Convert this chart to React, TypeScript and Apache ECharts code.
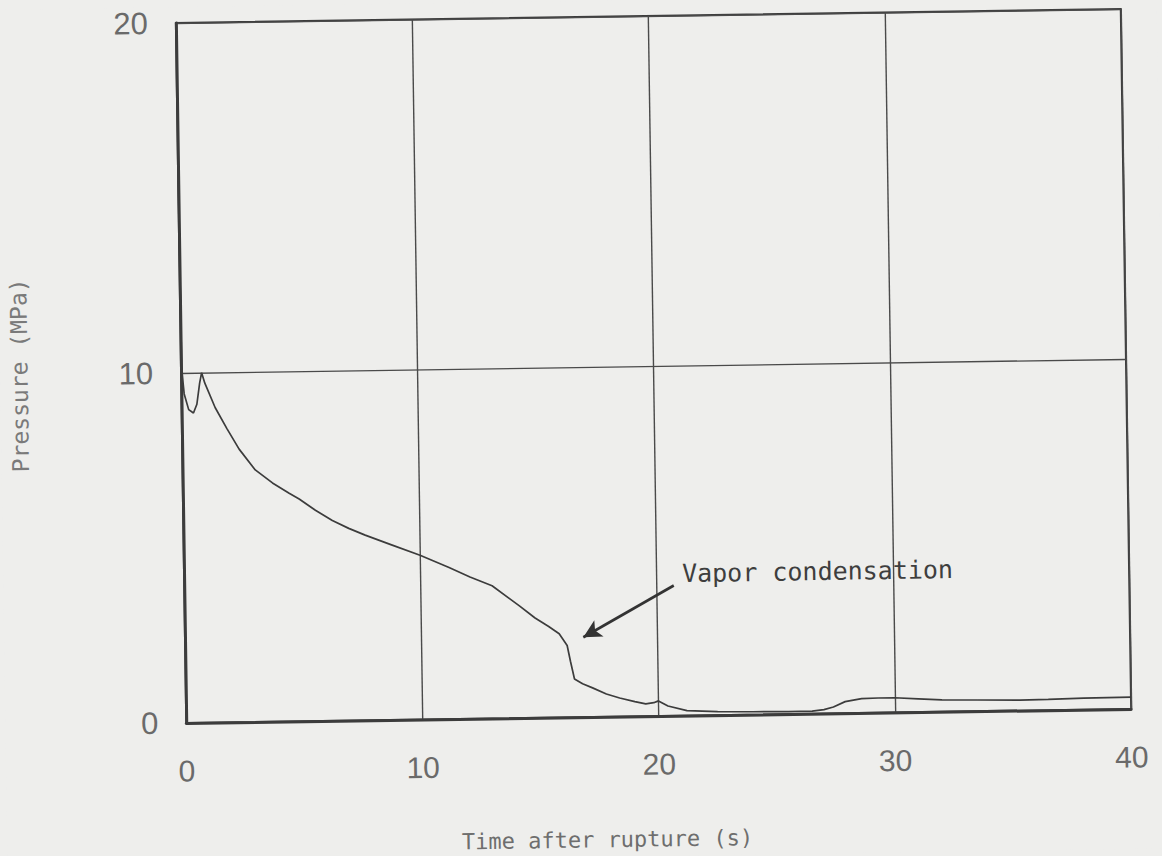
import React, { useEffect, useRef } from "react";
import * as echarts from "echarts";

// Pressure history after the rupture
const timeS = [
  0, 0.03, 0.12, 0.3, 0.5, 0.65, 0.78, 0.87, 1.0, 1.42, 1.9, 2.41, 3.08, 3.8, 4.5,
  4.92, 5.6, 6.31, 7.0, 7.69, 8.8, 10.0, 11.22, 12.1, 13.03, 14.16, 14.83, 15.4, 15.84, 16.17,
  16.3, 16.46, 16.8, 17.22, 17.8, 18.36, 19.0, 19.46, 19.8, 20.0, 20.4, 21.2, 22.5, 24, 25.5,
  26.5, 27.0, 27.4, 27.9, 28.6, 29.3, 30.0, 31.0, 32.0, 33.5, 35.3, 36.5, 38.0, 40.0,
];
const pressureMPa = [
  15.5, 10.1, 9.4, 8.95, 8.85, 9.1, 9.7, 10.0, 9.7, 9.0, 8.4, 7.8, 7.2, 6.82, 6.52,
  6.35, 6.02, 5.72, 5.49, 5.29, 5.0, 4.69, 4.33, 4.05, 3.79, 3.21, 2.85, 2.6, 2.39, 2.05,
  1.6, 1.09, 0.95, 0.83, 0.65, 0.53, 0.42, 0.35, 0.38, 0.43, 0.28, 0.14, 0.1, 0.08, 0.07,
  0.07, 0.11, 0.18, 0.33, 0.41, 0.42, 0.42, 0.38, 0.34, 0.32, 0.3, 0.31, 0.33, 0.34,
];

const xTicks = [0, 10, 20, 30, 40];
const yTicks = [0, 10, 20];

const xTitle = "Time after rupture (s)";
const yTitle = "Pressure (MPa)";
const noteText = "Vapor condensation";
// arrow from the note towards the curve, in data units
const arrowFrom = [20.72, 3.72];
const arrowTo = [16.86, 2.28];

const INK = "#3c3c3c";
const LABEL = "#6a6a6a";
const PAPER = "#eeeeec";

export default function App() {
  const ref = useRef<HTMLDivElement>(null);

  useEffect(() => {
    if (!ref.current) return;
    const chart = echarts.init(ref.current, undefined, { renderer: "svg" });
    const points = timeS.map((t, i) => [t, pressureMPa[i]]);

    chart.setOption({
      animation: false,
      backgroundColor: PAPER,
      grid: {
        left: 179,
        top: 16,
        width: 947,
        height: 700,
        show: true,
        borderColor: INK,
        borderWidth: 2,
        backgroundColor: "transparent",
      },
      xAxis: {
        type: "value",
        min: xTicks[0],
        max: xTicks[xTicks.length - 1],
        interval: 10,
        name: xTitle,
        nameLocation: "middle",
        nameGap: 112,
        nameTextStyle: {
          fontFamily: "DejaVu Sans Mono",
          fontSize: 22,
          color: "#6e6e6e",
          padding: [0, 106, 0, 0],
        },
        axisLine: { show: true, lineStyle: { color: INK, width: 3 } },
        axisTick: { show: false },
        splitLine: { show: true, lineStyle: { color: "#4a4a4a", width: 1.4 } },
        axisLabel: {
          margin: 33,
          fontFamily: "Liberation Sans",
          fontSize: 30,
          color: LABEL,
          formatter: (v: number) => String(v),
        },
      },
      yAxis: {
        type: "value",
        min: yTicks[0],
        max: yTicks[yTicks.length - 1],
        interval: 10,
        name: yTitle,
        nameLocation: "middle",
        nameGap: 150,
        nameRotate: 90,
        nameTextStyle: {
          fontFamily: "DejaVu Sans Mono",
          fontSize: 23,
          color: "#7a7a7a",
        },
        axisLine: { show: true, lineStyle: { color: INK, width: 3 } },
        axisTick: { show: false },
        splitLine: { show: true, lineStyle: { color: "#4a4a4a", width: 1.4 } },
        axisLabel: {
          margin: 28,
          fontFamily: "Liberation Sans",
          fontSize: 31,
          color: LABEL,
        },
      },
      series: [
        {
          type: "line",
          data: points,
          showSymbol: false,
          smooth: false,
          lineStyle: { color: INK, width: 1.7 },
          markLine: {
            silent: true,
            label: { show: false },
            lineStyle: { color: "#333", width: 2.6, type: "solid" },
            symbolSize: [14, 18],
            data: [
              [
                { coord: arrowFrom, symbol: "none" },
                { coord: arrowTo, symbol: "arrow" },
              ],
            ],
          },
        },
      ],
      graphic: [
        {
          type: "text",
          x: 679,
          y: 574,
          style: {
            text: noteText,
            fontFamily: "DejaVu Sans Mono",
            fontSize: 25,
            fill: "#3e3e3e",
            verticalAlign: "middle",
            align: "left",
          },
        },
      ],
    });

    return () => chart.dispose();
  }, []);

  return (
    <div
      style={{
        position: "fixed",
        left: 0,
        top: 0,
        width: 1162,
        height: 856,
        background: PAPER,
        overflow: "hidden",
      }}
    >
      <div
        ref={ref}
        style={{
          position: "absolute",
          left: 0,
          top: 0,
          width: 1162,
          height: 856,
          transformOrigin: "652px 366px",
          transform: "rotate(-0.85deg)",
        }}
      />
    </div>
  );
}
